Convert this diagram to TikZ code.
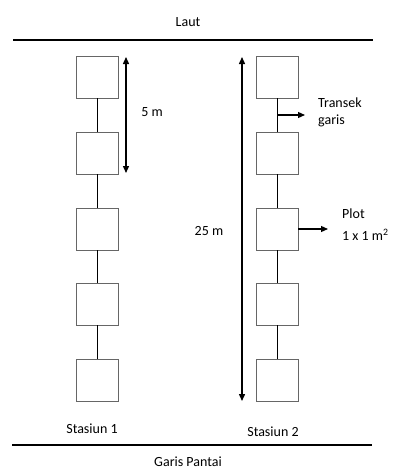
\documentclass[tikz,border=0pt]{standalone}
\usepackage{fontspec}
\setmainfont{Carlito}
\usetikzlibrary{arrows.meta,calc}

\tikzset{
	plot/.style={draw=black!60, line width=0.9pt, minimum size=42pt, inner sep=0pt},
	tali/.style={line width=0.7pt},
	ukur/.style={line width=1.4pt, {Triangle[length=7pt,width=6pt]}-{Triangle[length=7pt,width=6pt]}},
	tunjuk/.style={line width=1.2pt, -{Triangle[length=7pt,width=6pt]}},
	teks/.style={font=\fontsize{14}{17}\selectfont, inner sep=0pt}
}

\begin{document}
\begin{tikzpicture}[x=1pt,y=-1pt]
		\useasboundingbox (0,0) rectangle (395,471);
		
		% laut dan garis pantai
		\node[teks] (laut) at (188,22) {Laut};
		\draw[line width=1.4pt] (13,40) -- (373,40);
		\draw[line width=1.4pt] (12,445) -- (372,445);
		\node[teks] (pantai) at (188,462) {Garis Pantai};
		
		% plot stasiun 1 dan 2
		\foreach \i/\y in {1/77,2/153,3/229,4/304,5/380}
			{
			\node[plot] (s1p\i) at (97,\y) {};
			\node[plot] (s2p\i) at (277,\y) {};
			}
		\foreach \i/\j in {1/2,2/3,3/4,4/5}
			{
			\draw[tali] (s1p\i.south) -- (s1p\j.north);
			\draw[tali] (s2p\i.south) -- (s2p\j.north);
			}
		
		% jarak
		\coordinate (a1) at (126,57);
		\coordinate (b1) at (126,173);
		\draw[ukur] (a1) -- (b1);
		\node[teks] (lima) at (152,112) {5 m};
		\coordinate (a2) at (242,57);
		\coordinate (b2) at (242,401);
		\draw[ukur] (a2) -- (b2);
		\node[teks] (dualima) at (209,231) {25 m};
		
		% keterangan
		\coordinate (tr) at ($(s2p1.south)!0.5!(s2p2.north)$);
		\coordinate (tr2) at (305,0 |- tr);
		\draw[tunjuk] (tr) -- (tr2);
		\node[teks, anchor=west, align=left] (transek) at (318,112) {Transek\\garis};
		\coordinate (pl) at (328,0 |- s2p3.east);
		\draw[tunjuk] (s2p3.east) -- (pl);
		\node[teks, anchor=west, align=left] (plot) at (342,225) {Plot\\[5pt]1 x 1 m\textsuperscript{2}};
		
		\node[teks] (st1) at (92,429) {Stasiun 1};
		\node[teks] (st2) at (273,432) {Stasiun 2};
	\end{tikzpicture}
\end{document}
